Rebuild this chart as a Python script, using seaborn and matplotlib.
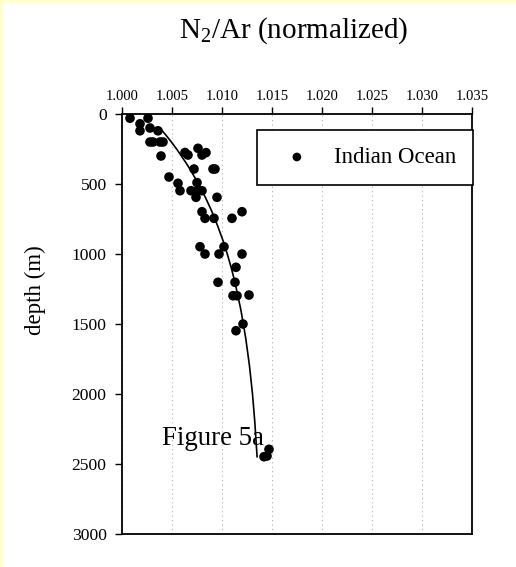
import matplotlib
matplotlib.use('Agg')
import matplotlib.pyplot as plt
import seaborn as sns
import pandas as pd
from matplotlib.patches import Rectangle

# ---- data ----
n2ar = [1.0008, 1.0026, 1.0018, 1.0018, 1.0028, 1.0036, 1.0028, 1.0031, 1.0038, 1.0041,
        1.0039, 1.0047, 1.0056, 1.0058, 1.0063, 1.0066, 1.0072, 1.0076, 1.0080, 1.0084,
        1.0091, 1.0093, 1.0069, 1.0075, 1.0080, 1.0075, 1.0074, 1.0095, 1.0080, 1.0083,
        1.0092, 1.0110, 1.0120, 1.0078, 1.0083, 1.0097, 1.0102, 1.0120, 1.0114, 1.0096,
        1.0113, 1.0111, 1.0115, 1.0127, 1.0121, 1.0114, 1.0142, 1.0145, 1.0147]
depth = [30, 30, 70, 120, 100, 120, 200, 200, 200, 200,
         300, 450, 495, 548, 275, 293, 393, 245, 293, 276,
         393, 393, 548, 548, 548, 490, 595, 595, 698, 745,
         745, 745, 698, 948, 1000, 1000, 948, 1000, 1095, 1202,
         1202, 1298, 1298, 1293, 1500, 1548, 2448, 2443, 2395]

# fitted curve
fit_n2ar = [1.00380, 1.00438, 1.00494, 1.00546, 1.00594, 1.00641, 1.00685, 1.00765,
            1.00837, 1.00901, 1.00957, 1.01008, 1.01053, 1.01093, 1.01129, 1.01189,
            1.01237, 1.01275, 1.01305, 1.01328, 1.01351]
fit_depth = [100, 150, 200, 250, 300, 350, 400, 500,
             600, 700, 800, 900, 1000, 1100, 1200, 1400,
             1600, 1800, 2000, 2200, 2450]

x_ticks = [1.000, 1.005, 1.010, 1.015, 1.020, 1.025, 1.030, 1.035]
x_labels = ["1.000", "1.005", "1.010", "1.015", "1.020", "1.025", "1.030", "1.035"]
y_ticks = [0, 500, 1000, 1500, 2000, 2500, 3000]
y_labels = ["0", "500", "1000", "1500", "2000", "2500", "3000"]

series_name = "Indian Ocean"
title_text = "N$_2$/Ar (normalized)"
ylabel_text = "depth (m)"
note_text = "Figure 5a"

df = pd.DataFrame({"n2ar": n2ar, "depth": depth})
fit = pd.DataFrame({"n2ar": fit_n2ar, "depth": fit_depth})

sns.set_theme(style="white")
plt.rcParams['font.family'] = ['Liberation Serif', 'DejaVu Serif']
plt.rcParams['mathtext.fontset'] = 'custom'
plt.rcParams['mathtext.rm'] = 'Liberation Serif'
plt.rcParams['mathtext.it'] = 'Liberation Serif:italic'
plt.rcParams['mathtext.bf'] = 'Liberation Serif:bold'

W, H = 516, 567
fig = plt.figure(figsize=(W / 100, H / 100), dpi=100)
fig.patch.set_facecolor('white')
ax = fig.add_axes([122 / W, 1 - 534 / H, 350 / W, 420 / H])

sns.lineplot(data=fit, x="n2ar", y="depth", sort=False, estimator=None,
             color="black", linewidth=1.2, ax=ax, legend=False)
sns.scatterplot(data=df, x="n2ar", y="depth", color="black", s=48,
                edgecolor="none", ax=ax, label=series_name, zorder=3)

ax.set_xlim(1.000, 1.035)
ax.set_ylim(3000, 0)
ax.set_xticks(x_ticks)
ax.set_xticklabels(x_labels)
ax.set_yticks(y_ticks)
ax.set_yticklabels(y_labels)
ax.xaxis.tick_top()
ax.tick_params(axis='x', top=True, bottom=False, direction='out', length=5,
               width=1, color='black', labelsize=10.5, pad=3, labelcolor='black')
ax.tick_params(axis='y', left=True, direction='out', length=5, width=1,
               color='black', labelsize=12.6, pad=6, labelcolor='black')
ax.set_xlabel("")
ax.set_ylabel("")
ax.grid(axis='x', linestyle=(0, (1, 3)), color='#b0b0b0', linewidth=0.8)
ax.grid(axis='y', visible=False)
for s in ax.spines.values():
    s.set_visible(True)
    s.set_color('black')
    s.set_linewidth(1.3)

handles, labels = ax.get_legend_handles_labels()
leg = ax.legend(handles, labels, loc='upper left',
                bbox_to_anchor=(257 / W, 1 - 130 / H), bbox_transform=fig.transFigure,
                borderaxespad=0, frameon=True, fancybox=False, framealpha=1,
                edgecolor='black', fontsize=16.5, borderpad=0.74,
                handlelength=2.0, handletextpad=0.6, markerscale=0.9)
leg.get_frame().set_linewidth(1.2)
for t in leg.get_texts():
    t.set_color('black')

ax.text(1.00397, 2364, note_text, fontsize=19.4, ha='left', va='baseline', color='black')

fig.text(294 / W, 1 - 38 / H, title_text, fontsize=21, ha='center', va='baseline', color='black')
fig.text(35 / W, 1 - 290 / H, ylabel_text, fontsize=16.5, rotation=90,
         ha='center', va='center', color='black')

yellow = '#FFFFCC'
fig.patches.append(Rectangle((0, 0), 3 / W, 1, transform=fig.transFigure,
                             facecolor=yellow, edgecolor='none', zorder=-1))
fig.patches.append(Rectangle((0, 1 - 3 / H), 1, 3 / H, transform=fig.transFigure,
                             facecolor=yellow, edgecolor='none', zorder=-1))

fig.savefig("out.png", dpi=100)
